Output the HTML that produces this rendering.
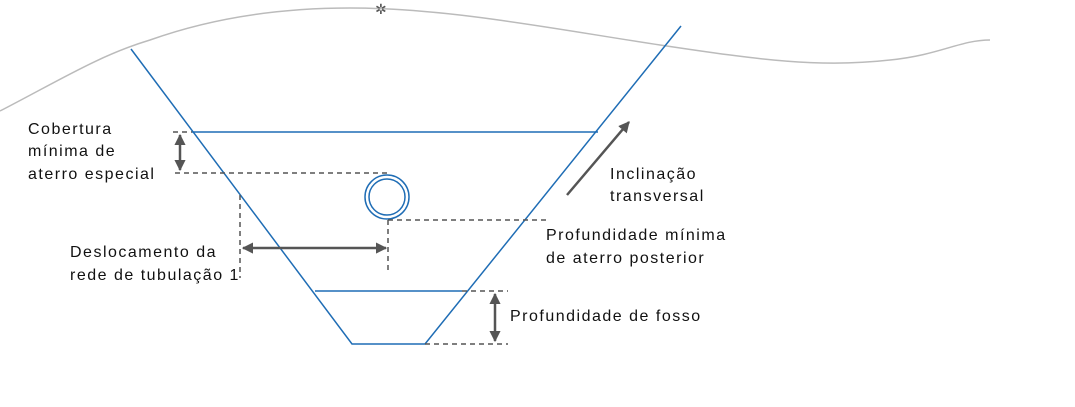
<!DOCTYPE html>
<html><head><style>
body{margin:0;background:#fff;}
svg{display:block;}
text{font-family:"Liberation Sans",sans-serif;font-size:16px;fill:#111;letter-spacing:1.5px;}
</style></head><body>
<svg width="1075" height="407" viewBox="0 0 1075 407">
<defs>
<marker id="a" viewBox="0 0 10 10" refX="9" refY="5" markerWidth="4.5" markerHeight="5" orient="auto-start-reverse"><path d="M0,0L10,5L0,10z" fill="#555"/></marker>
</defs>
<path d="M0,111 C60,80 100,55 150,40 C220,15 290,8 350,8 C450,8 560,30 660,45 C760,60 820,68 890,60 C940,55 960,40 990,40" fill="none" stroke="#bbb" stroke-width="1.5"/>
<text x="375" y="14" style="font-size:14px;fill:#555;letter-spacing:0">✲</text>
<g stroke="#1f6db5" stroke-width="1.5" fill="none">
<path d="M131,49 L352,344 L425,344 L681,26"/>
<line x1="192" y1="132" x2="598" y2="132"/>
<line x1="315" y1="291" x2="462" y2="291"/>
<circle cx="387" cy="197" r="22"/>
<circle cx="387" cy="197" r="18"/>
</g>
<g stroke="#555" stroke-width="1.5" stroke-dasharray="5,4" fill="none">
<line x1="173" y1="132" x2="192" y2="132"/>
<line x1="175" y1="173" x2="387" y2="173"/>
<line x1="240" y1="195" x2="240" y2="278"/>
<line x1="388" y1="220" x2="388" y2="273"/>
<line x1="388" y1="220" x2="547" y2="220"/>
<line x1="462" y1="291" x2="508" y2="291"/>
<line x1="425" y1="344" x2="508" y2="344"/>
</g>
<g stroke="#555" stroke-width="2.5" fill="none">
<line x1="180" y1="135" x2="180" y2="170" marker-start="url(#a)" marker-end="url(#a)"/>
<line x1="243" y1="248" x2="386" y2="248" marker-start="url(#a)" marker-end="url(#a)"/>
<line x1="495" y1="294" x2="495" y2="341" marker-start="url(#a)" marker-end="url(#a)"/>
<line x1="567" y1="195" x2="629" y2="122" marker-end="url(#a)"/>
</g>
<text x="28" y="134">Cobertura</text>
<text x="28" y="156">mínima de</text>
<text x="28" y="179">aterro especial</text>
<text x="610" y="179">Inclinação</text>
<text x="610" y="201">transversal</text>
<text x="70" y="257">Deslocamento da</text>
<text x="70" y="280">rede de tubulação 1</text>
<text x="546" y="240">Profundidade mínima</text>
<text x="546" y="263">de aterro posterior</text>
<text x="510" y="321">Profundidade de fosso</text>
</svg>
</body></html>
